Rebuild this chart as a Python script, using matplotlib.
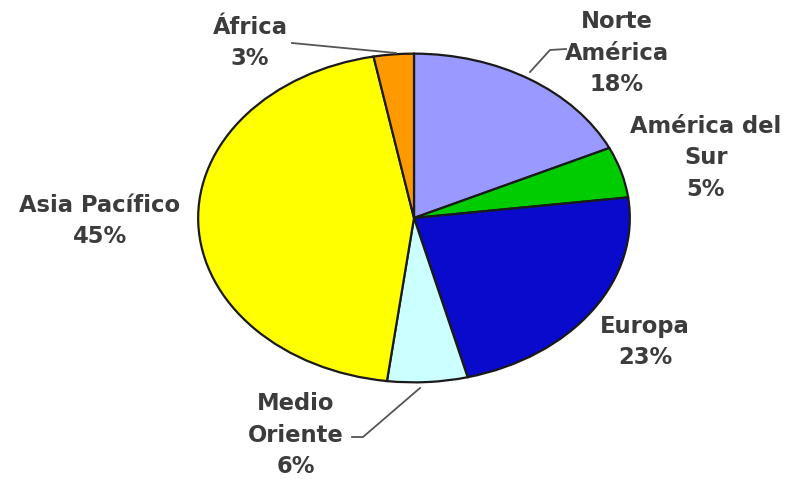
import matplotlib
matplotlib.use("Agg")
import matplotlib.pyplot as plt
from matplotlib.lines import Line2D

regions = ["Norte\nAmérica", "América del\nSur", "Europa", "Medio\nOriente", "Asia Pacífico", "África"]
shares = [18, 5, 23, 6, 45, 3]
colors = ["#9999FF", "#00CC00", "#0A0ACC", "#CCFFFF", "#FFFF00", "#FF9900"]

W, H = 793, 479
fig = plt.figure(figsize=(W / 100, H / 100), dpi=100)
fig.patch.set_facecolor("white")

# pie occupies an ellipse: x 196..632, y 52..384 (pixels, top origin)
ax = fig.add_axes([196 / W, 1 - 384 / H, (632 - 196) / W, (384 - 52) / H])
ax.pie(shares, colors=colors, startangle=90, counterclock=False,
       wedgeprops=dict(edgecolor="#1a1a1a", linewidth=1.6))
ax.set_aspect("auto")
ax.set_xlim(-1.01, 1.01)
ax.set_ylim(-1.01, 1.01)
ax.axis("off")

def px(x, y):
    return x / W, 1 - y / H

label_pos = [(617, 53), (706, 158), (645, 342), (296, 435), (100, 221), (250, 43)]
for name, val, (x, y) in zip(regions, shares, label_pos):
    fx, fy = px(x, y)
    fig.text(fx, fy, f"{name}\n{val}%", ha="center", va="center",
             fontsize=16.3, family="DejaVu Sans", fontweight="bold",
             color="#3c3c3c", linespacing=1.45, multialignment="center")

leaders = [
    [(292, 43), (396, 53)],
    [(530, 72), (550, 50), (566, 49)],
    [(352, 437), (363, 437), (420, 388)],
]
for pts in leaders:
    xs = [px(*p)[0] for p in pts]
    ys = [px(*p)[1] for p in pts]
    fig.add_artist(Line2D(xs, ys, transform=fig.transFigure, color="#555555", lw=1.3))

fig.savefig("out.png", dpi=100, facecolor="white")
